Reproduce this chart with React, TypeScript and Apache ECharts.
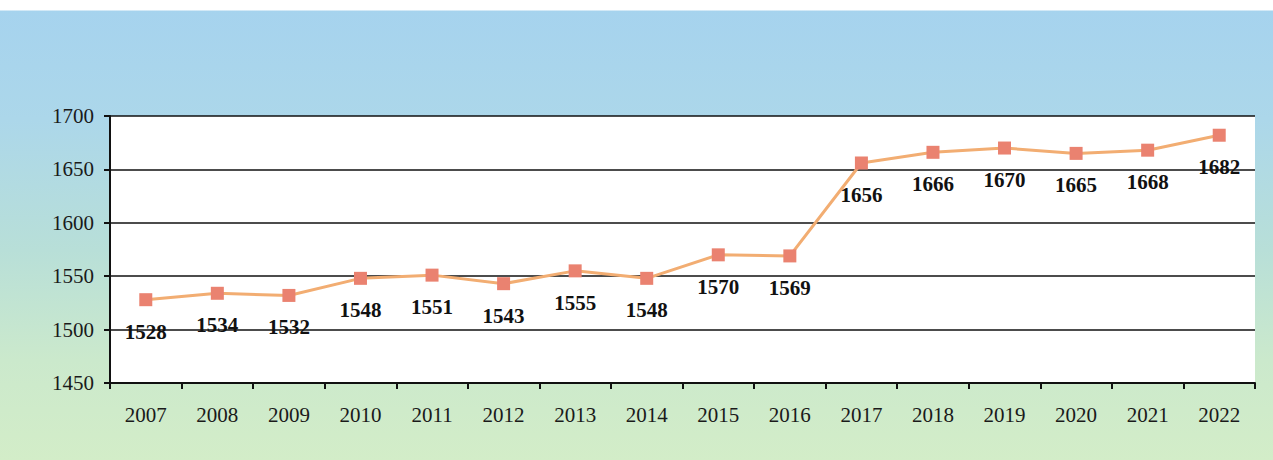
import React, { useEffect, useRef } from "react";
import * as echarts from "echarts";

const years = ["2007", "2008", "2009", "2010", "2011", "2012", "2013", "2014", "2015", "2016", "2017", "2018", "2019", "2020", "2021", "2022"];
const population = [1528, 1534, 1532, 1548, 1551, 1543, 1555, 1548, 1570, 1569, 1656, 1666, 1670, 1665, 1668, 1682];

export default function App() {
  const ref = useRef<HTMLDivElement>(null);
  useEffect(() => {
    const chart = echarts.init(ref.current!, undefined, { renderer: "svg" });
    const serif = "'Liberation Serif', 'Times New Roman', serif";
    chart.setOption({
      animation: false,
      backgroundColor: "transparent",
      grid: { left: 110, right: 18, top: 116, bottom: 77, backgroundColor: "#ffffff", show: true, borderWidth: 0 },
      xAxis: {
        type: "category",
        data: years,
        boundaryGap: true,
        axisLine: { lineStyle: { color: "#111", width: 2 } },
        axisTick: { show: true, length: 6, lineStyle: { color: "#111", width: 2 } },
        axisLabel: { color: "#1a1a1a", fontFamily: serif, fontSize: 21, margin: 21 },
      },
      yAxis: {
        type: "value",
        min: 1450,
        max: 1700,
        interval: 50,
        axisLine: { show: true, lineStyle: { color: "#111", width: 2 } },
        axisTick: { show: true, length: 6, lineStyle: { color: "#111", width: 2 } },
        axisLabel: { color: "#1a1a1a", fontFamily: serif, fontSize: 21, margin: 16, formatter: (v: number) => String(v) },
        splitLine: { show: true, lineStyle: { color: "#111", width: 1.5 } },
      },
      series: [
        {
          type: "line",
          data: population,
          symbol: "rect",
          symbolSize: 13,
          lineStyle: { color: "#f2ad72", width: 3 },
          itemStyle: { color: "#ea8270" },
          label: {
            show: true,
            position: "bottom",
            distance: 15,
            color: "#111",
            fontFamily: serif,
            fontWeight: "bold",
            fontSize: 21,
          },
        },
      ],
    });
    return () => chart.dispose();
  }, []);
  return (
    <div
      ref={ref}
      style={{
        position: "fixed",
        left: 0,
        top: 0,
        width: 1273,
        height: 460,
        background:
          "linear-gradient(to bottom, #ffffff 0px, #ffffff 10px, #a6d3ee 11px, #acd7ea 120px, #b8dfd8 250px, #cbe9cc 360px, #d3edc8 460px)",
      }}
    />
  );
}
